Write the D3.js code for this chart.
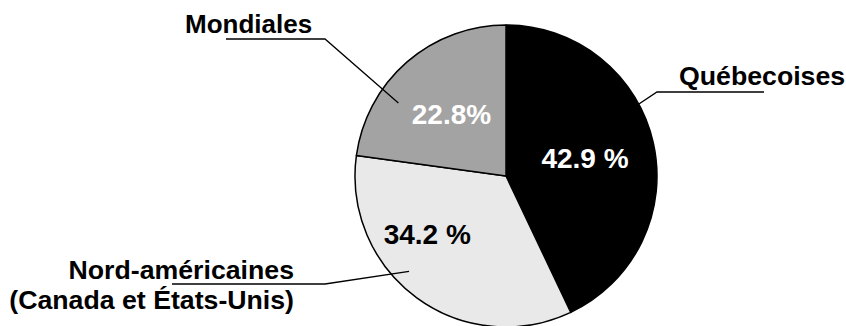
<!DOCTYPE html>
<html>
<head>
<meta charset="utf-8">
<script src="https://cdn.jsdelivr.net/npm/d3@7"></script>
<style>
  html, body { margin: 0; padding: 0; background: #fff; }
  svg { display: block; }
  text { font-family: "Liberation Sans", Arial, Helvetica, sans-serif; font-weight: bold; }
</style>
</head>
<body>
<svg id="chart" width="846" height="326"></svg>
<script>
// Share of purchases by origin (percent)
const categories = ["Québecoises", "Nord-américaines", "Mondiales"];
const shares = [42.9, 34.2, 22.8];
const valueLabels = ["42.9 %", "34.2 %", "22.8%"];
const nameLines = [["Québecoises"], ["Nord-américaines", "(Canada et États-Unis)"], ["Mondiales"]];

const fills = ["#000000", "#e9e9e9", "#a3a3a3"];
const valueColors = ["#ffffff", "#000000", "#ffffff"];

const cx = 506, cy = 176, R = 151;

// percent label placement: angle fraction inside slice and radius
const valuePos = [{t: 0.5, r: 81}, {t: 0.64, r: 98}, {t: 0.5, r: 83}];
// leader lines: point inside slice (fraction, radius), then elbow and far end
const leaders = [
  {t: 0.406, r: 122, elbow: [657, 92], end: [764, 92]},
  {t: 0.575, r: 136, elbow: [325, 284], end: [172, 284]},
  {t: 0.32, r: 130, elbow: [325, 39], end: [226, 39]}
];
const nameAnchor = [
  {x: 679, y: 85, anchor: "start", size: 26.7},
  {x: 294, y: 279, anchor: "end", size: 26.7},
  {x: 185, y: 33, anchor: "start", size: 26}
];

const svg = d3.select("#chart");
const g = svg.append("g").attr("transform", `translate(${cx},${cy})`);

const pie = d3.pie().sort(null).value(d => d);
const arcs = pie(shares);
const arc = d3.arc().innerRadius(0).outerRadius(R);

g.selectAll("path.slice")
  .data(arcs)
  .join("path")
  .attr("class", "slice")
  .attr("d", arc)
  .attr("fill", (d, i) => fills[i])
  .attr("stroke", "#000")
  .attr("stroke-width", 1.5)
  .attr("stroke-linejoin", "round");

function polar(d, t, r) {
  const a = d.startAngle + t * (d.endAngle - d.startAngle);
  return [r * Math.sin(a), -r * Math.cos(a)];
}

// percent values inside slices
g.selectAll("text.value")
  .data(arcs)
  .join("text")
  .attr("class", "value")
  .attr("x", (d, i) => polar(d, valuePos[i].t, valuePos[i].r)[0])
  .attr("y", (d, i) => polar(d, valuePos[i].t, valuePos[i].r)[1])
  .attr("dy", "0.36em")
  .attr("text-anchor", "middle")
  .attr("font-size", 28)
  .attr("fill", (d, i) => valueColors[i])
  .text((d, i) => valueLabels[i]);

// leader lines
arcs.forEach((d, i) => {
  const p = polar(d, leaders[i].t, leaders[i].r);
  const pts = [[p[0] + cx, p[1] + cy], leaders[i].elbow, leaders[i].end];
  svg.append("path")
    .attr("d", d3.line()(pts))
    .attr("fill", "none")
    .attr("stroke", "#000")
    .attr("stroke-width", 1.3);
});

// category names
categories.forEach((c, i) => {
  const t = svg.append("text")
    .attr("x", nameAnchor[i].x)
    .attr("y", nameAnchor[i].y)
    .attr("text-anchor", nameAnchor[i].anchor)
    .attr("font-size", nameAnchor[i].size)
    .attr("fill", "#000");
  nameLines[i].forEach((line, k) => {
    t.append("tspan")
      .attr("x", nameAnchor[i].x)
      .attr("dy", k === 0 ? 0 : 30)
      .text(line);
  });
});
</script>
</body>
</html>
